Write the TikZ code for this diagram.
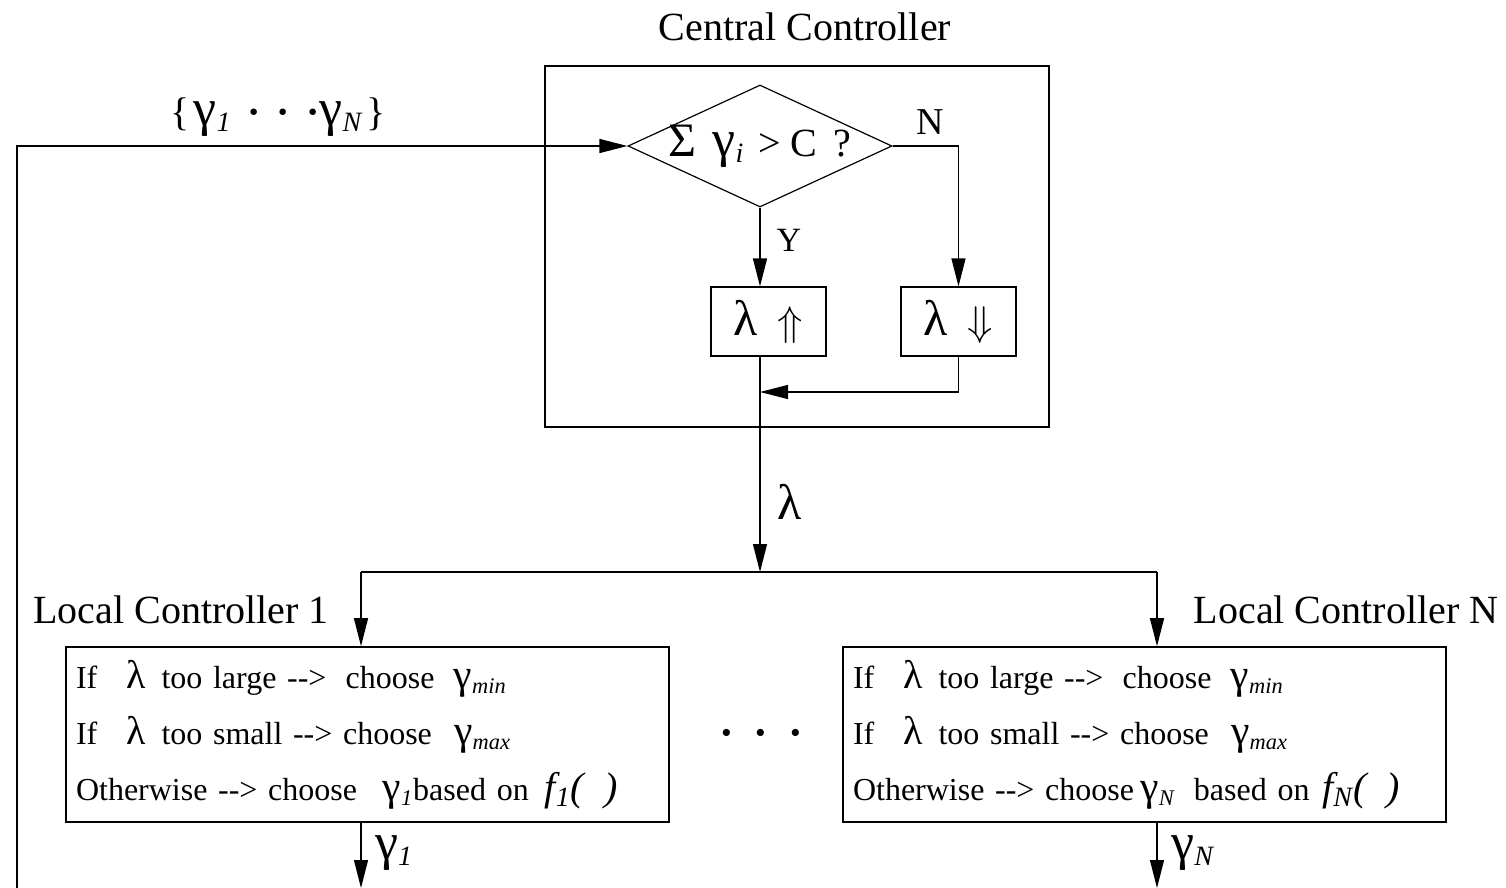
\documentclass[tikz,border=0pt]{standalone}
\usepackage{fontspec}
\setmainfont{Liberation Serif}
\usetikzlibrary{arrows.meta, positioning, shapes.geometric}
\newcommand{\isub}[1]{\textsubscript{\itshape #1}}
\newcommand{\gm}{\scalebox{1.3}{γ}}
\newcommand{\lm}{\scalebox{1.25}{λ}}

\begin{document}
\begin{tikzpicture}[x=0.5pt, y=-0.5pt, line width=0.6pt,
  arr/.style={-{Triangle[length=14pt, width=7pt]}},
  lbl/.style={font=\fontsize{20}{24}\selectfont},
  lambox/.style={draw, inner sep=0pt, minimum width=57.5pt, minimum height=34.5pt,
    font=\fontsize{20}{24}\selectfont},
  rulebox/.style={draw, line width=0.8pt, inner xsep=5pt, inner ysep=0pt,
    text width=291.5pt, minimum height=87.5pt, align=left,
    font=\fontsize{16}{28}\selectfont}]
\useasboundingbox (0,0) rectangle (1506,888);

\node[lbl] (title) at (805,27) {Central Controller};
\node[draw, line width=1pt, minimum width=252pt, minimum height=180.5pt] (central) at (797,246.5) {};
\node[draw, diamond, aspect=2.16, inner sep=-3pt, minimum width=132pt, minimum height=61pt,
      font=\fontsize{20}{22}\selectfont] (test) at (760,146)
  {\scalebox{1.2}{Σ}\hspace{0.4em}\gm\isub{i}\hspace{0.35em}> C\hspace{0.4em}?};
\node[lambox] (lamup) at (768.5,321.5) {\lm\hspace{0.5em}$\Uparrow$};
\node[lambox] (lamdown) at (958.5,321.5) {\lm\hspace{0.5em}$\Downarrow$};

\coordinate (join) at (760,392);
\coordinate (bus) at (760,572);
\coordinate (bus1) at (361,572);
\coordinate (busN) at (1157,572);
\coordinate (out1) at (361,888);
\coordinate (outN) at (1157,888);
\coordinate (fb) at (17,888);

\node[lbl] (lc1) at (181,610) {Local Controller 1};
\node[lbl] (lcN) at (1346,610) {Local Controller N};

\node[rulebox] (local1) at (367.5,734.5)
  {If\hspace{0.9em}\lm\hspace{0.5em}too large -{}->\hspace{0.6em}choose\hspace{0.6em}\gm\isub{min}\\
   If\hspace{0.9em}\lm\hspace{0.5em}too small -{}-> choose\hspace{0.7em}\gm\isub{max}\\
   Otherwise -{}-> choose\hspace{0.8em}\gm\isub{1}based on\hspace{0.5em}{\fontsize{20}{20}\selectfont\itshape f\textsubscript{1}(\hspace{0.5em})}};
\node[rulebox] (localN) at (1144.5,734.5)
  {If\hspace{0.9em}\lm\hspace{0.5em}too large -{}->\hspace{0.6em}choose\hspace{0.6em}\gm\isub{min}\\
   If\hspace{0.9em}\lm\hspace{0.5em}too small -{}-> choose\hspace{0.7em}\gm\isub{max}\\
   Otherwise -{}-> choose\hspace{0.2em}\gm\isub{N}\hspace{0.6em}based on\hspace{0.4em}{\fontsize{20}{20}\selectfont\itshape f\textsubscript{N}(\hspace{0.5em})}};

\node[font=\fontsize{22}{24}\selectfont\bfseries] (dots) at (761,738) {·\hspace{0.45em}·\hspace{0.45em}·};

\draw[arr] (fb) |- (test.west);
\node[lbl] (gset) at (278,117) {\{\hspace{0.1em}\gm\isub{1}\hspace{0.4em}{\bfseries·}\hspace{0.4em}{\bfseries·}\hspace{0.4em}{\bfseries·}\gm\isub{N}\hspace{0.1em}\}};

\draw[arr] (test.south) -- (test.south |- lamup.north);
\node[font=\fontsize{17}{20}\selectfont] (yes) at (789,240) {Y};
\draw[arr] (test.east) -| (lamdown.north);
\node[font=\fontsize{19}{22}\selectfont] (no) at (930,122) {N};
\draw[arr] (lamdown.south) |- (join);
\draw[arr] (test.south |- lamup.south) -- (bus);
\node[lbl] (lam) at (790,502) {\lm};

\draw (bus1) -- (busN);
\draw[arr] (bus1) -- (bus1 |- local1.north);
\draw[arr] (busN) -- (busN |- localN.north);
\draw[arr] (bus1 |- local1.south) -- (out1);
\draw[arr] (busN |- localN.south) -- (outN);
\node[lbl, anchor=west] (g1) at (368,853) {\gm\isub{1}};
\node[lbl, anchor=west] (gN) at (1164,853) {\gm\isub{N}};
\end{tikzpicture}
\end{document}
